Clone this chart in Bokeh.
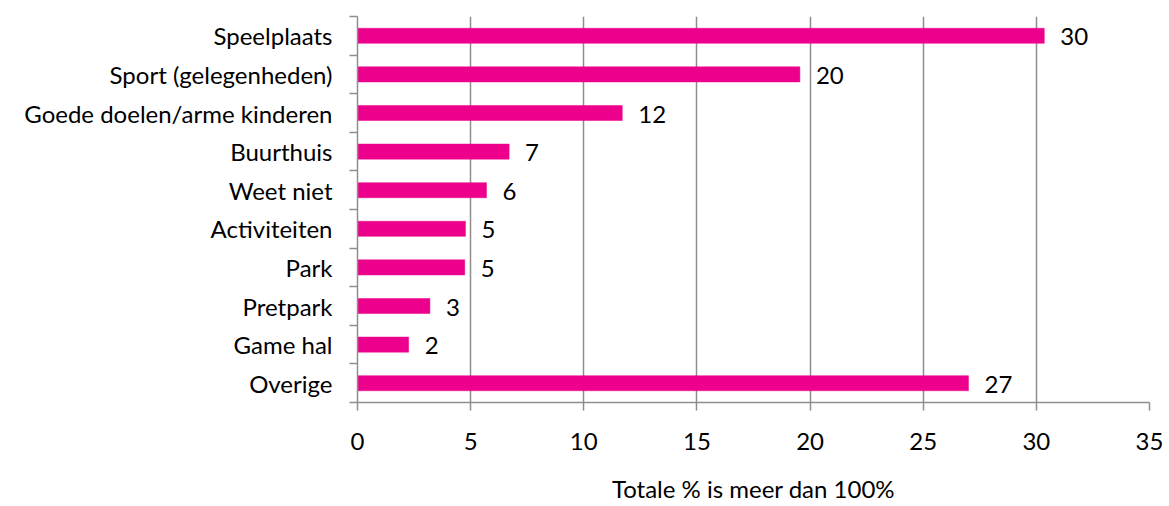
from bokeh.plotting import figure
from bokeh.models import ColumnDataSource, FixedTicker, LabelSet, Range1d
from bokeh.core.properties import value
from bokeh.embed import file_html
from bokeh.resources import INLINE

categories = ["Speelplaats", "Sport (gelegenheden)", "Goede doelen/arme kinderen",
              "Buurthuis", "Weet niet", "Activiteiten", "Park", "Pretpark",
              "Game hal", "Overige"]
values = [30.35, 19.55, 11.7, 6.7, 5.7, 4.77, 4.74, 3.2, 2.26, 27.0]
x_ticks = [0, 5, 10, 15, 20, 25, 30, 35]
x_title = "Totale % is meer dan 100%"

FONT = "Lato"
FS = "24px"
GRAY = "#8E8E8E"
BAR = "#EC008C"

n = len(categories)
ypos = [n - i - 0.5 for i in range(n)]
labels = [f"{v:.0f}" for v in values]
src = ColumnDataSource(dict(y=ypos, v=values, cat=categories, lbl=labels))

p = figure(width=1169, height=506, x_range=Range1d(x_ticks[0], x_ticks[-1]), y_range=Range1d(0, n),
           output_backend="svg", toolbar_location=None,
           min_border_left=357, min_border_right=20, min_border_top=16, min_border_bottom=104)
p.outline_line_color = None
p.background_fill_color = "white"
p.border_fill_color = "white"

p.hbar(y="y", left=0, right="v", height=0.39, source=src,
       fill_color=BAR, line_color=BAR, line_width=0.5)

p.add_layout(LabelSet(x="v", y="y", text="lbl", source=src, x_offset=16, y_offset=-1,
                      text_baseline="middle", text_align="left",
                      text_font=value(FONT), text_font_size=value(FS), text_color="#000000"))

# grid
p.xgrid.ticker = FixedTicker(ticks=x_ticks)
p.xgrid.grid_line_color = GRAY
p.xgrid.grid_line_width = 1.5
p.ygrid.grid_line_color = None

# x axis
xa = p.xaxis[0]
xa.ticker = FixedTicker(ticks=x_ticks)
xa.axis_line_color = GRAY
xa.axis_line_width = 1.5
xa.major_tick_line_color = GRAY
xa.major_tick_line_width = 1.5
xa.major_tick_out = 8
xa.major_tick_in = 0
xa.minor_tick_line_color = None
xa.major_label_text_font = FONT
xa.major_label_text_font_size = FS
xa.major_label_text_color = "#000000"
xa.major_label_standoff = 22
xa.axis_label = x_title
xa.axis_label_text_font = FONT
xa.axis_label_text_font_size = FS
xa.axis_label_text_font_style = "normal"
xa.axis_label_text_color = "#000000"
xa.axis_label_text_line_height = 1.0
xa.axis_label_standoff = 21

# y axis
ya = p.yaxis[0]
ya.ticker = FixedTicker(ticks=ypos, minor_ticks=list(range(n + 1)))
ya.major_label_overrides = {y: c for y, c in zip(ypos, categories)}
ya.axis_line_color = GRAY
ya.axis_line_width = 1.5
ya.major_tick_line_color = None
ya.major_tick_out = 0
ya.major_tick_in = 0
ya.minor_tick_line_color = GRAY
ya.minor_tick_line_width = 1.5
ya.minor_tick_out = 8
ya.minor_tick_in = 0
ya.major_label_text_font = FONT
ya.major_label_text_font_size = FS
ya.major_label_text_color = "#000000"
ya.major_label_standoff = 17

open("out.html", "w").write(file_html(p, INLINE))
